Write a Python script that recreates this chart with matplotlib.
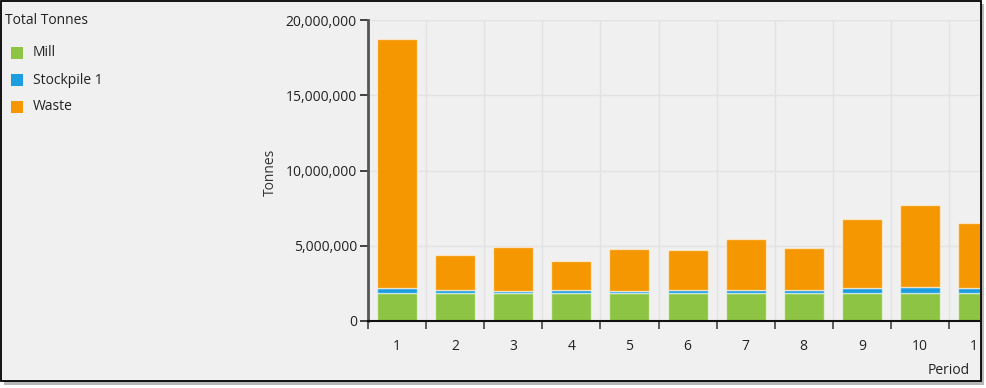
import matplotlib
matplotlib.use("Agg")
import matplotlib.pyplot as plt
from matplotlib.patches import Rectangle
from matplotlib.ticker import FuncFormatter
import matplotlib.transforms as mtransforms

plt.rcParams['font.family'] = ['Open Sans', 'DejaVu Sans']

periods = [1, 2, 3, 4, 5, 6, 7, 8, 9, 10, 11]
mill = [1.88e6, 1.88e6, 1.88e6, 1.88e6, 1.88e6, 1.88e6, 1.88e6, 1.88e6, 1.88e6, 1.88e6, 1.88e6]
stockpile = [0.33e6, 0.20e6, 0.10e6, 0.20e6, 0.10e6, 0.20e6, 0.20e6, 0.15e6, 0.33e6, 0.40e6, 0.33e6]
waste = [16.53e6, 2.31e6, 2.94e6, 1.91e6, 2.80e6, 2.64e6, 3.37e6, 2.84e6, 4.57e6, 5.43e6, 4.30e6]
series_names = ["Mill", "Stockpile 1", "Waste"]
colors = ["#8dc443", "#1c9de0", "#f49700"]
yticks = [0, 5e6, 10e6, 15e6, 20e6]

FS = 10
W, H = 987, 388
fig = plt.figure(figsize=(W / 100, H / 100), dpi=100)
fig.patch.set_facecolor("white")

def fx(px):
    return px / W

def fy(py):
    return 1 - py / H

# shadow and frame
fig.patches.append(Rectangle((fx(4), fy(385)), fx(980), 381 / H, transform=fig.transFigure,
                             facecolor="#b8b8b8", edgecolor="none", zorder=-2))
fig.patches.append(Rectangle((fx(0.5), fy(381)), fx(980.5), 380.5 / H, transform=fig.transFigure,
                             facecolor="#f0f0f0", edgecolor="black", lw=1.3, zorder=-1))

ax_left, ax_right, ax_top, ax_bot = 368, 980, 20, 321
ax = fig.add_axes([fx(ax_left), fy(ax_bot), fx(ax_right - ax_left), (ax_bot - ax_top) / H])
ax.set_facecolor("none")

bottom = [0.0] * len(periods)
for name, vals, c in zip(series_names, [mill, stockpile, waste], colors):
    ax.bar(periods, vals, width=0.69, bottom=bottom, color=c,
           edgecolor=(1, 1, 1, 0.55), linewidth=1.0, zorder=3, label=name)
    bottom = [b + v for b, v in zip(bottom, vals)]

# grid
ax.set_yticks(yticks)
ax.yaxis.set_major_formatter(FuncFormatter(lambda v, p: f"{int(v):,}"))
for y in yticks[1:]:
    ax.axhline(y, color="#e2e2e2", lw=1, zorder=1)
for b in range(1, 12):
    ax.axvline(b + 0.5, color="#e2e2e2", lw=1, zorder=1)

# x ticks at boundaries, labels at centers
ax.set_xticks([p + 0.5 for p in [0] + periods])
ax.set_xticklabels([])
ax.tick_params(axis="x", which="major", length=6, width=1.2, color="#444444", direction="out")
ax.set_xticks(periods, minor=True)
ax.set_xticklabels([str(p) for p in periods], minor=True)
ax.tick_params(axis="x", which="minor", length=0, pad=13, labelsize=FS, labelcolor="#222222")

cat_w = 58.1
xmax = 0.5 + (ax_right - ax_left) / cat_w
ax.set_xlim(0.5, xmax)
ax.set_ylim(0, 20e6)

for lab in ax.get_xticklabels(minor=True):
    lab.set_clip_on(True)
    lab.set_clip_box(mtransforms.TransformedBbox(
        mtransforms.Bbox.from_extents(0, 0, fx(ax_right - 2), 1), fig.transFigure))

ax.tick_params(axis="y", length=6, width=1.2, color="#222222", pad=2, labelsize=FS, labelcolor="#222222")

for s in ["top", "right"]:
    ax.spines[s].set_visible(False)
ax.spines["left"].set_color("#555555")
ax.spines["left"].set_linewidth(2)
ax.spines["bottom"].set_color("#111111")
ax.spines["bottom"].set_linewidth(1.5)
ax.spines["bottom"].set_zorder(5)

fig.text(fx(270), fy(172), "Tonnes", rotation=90, ha="center", va="center", fontsize=FS, color="#333333")
fig.text(fx(970), fy(370), "Period", ha="right", va="center", fontsize=FS, color="#222222")

# legend
fig.text(fx(5), fy(20), "Total Tonnes", ha="left", va="center", fontsize=FS, color="#222222")
for i, (name, c) in enumerate(zip(series_names, colors)):
    yc = 53 + i * 27
    fig.patches.append(Rectangle((fx(11), fy(yc + 6)), fx(12), 12 / H, transform=fig.transFigure,
                                 facecolor=c, edgecolor="none", zorder=2))
    fig.text(fx(33), fy(yc), name, ha="left", va="center", fontsize=FS, color="#222222")

fig.savefig("out.png", dpi=100, facecolor="white")
